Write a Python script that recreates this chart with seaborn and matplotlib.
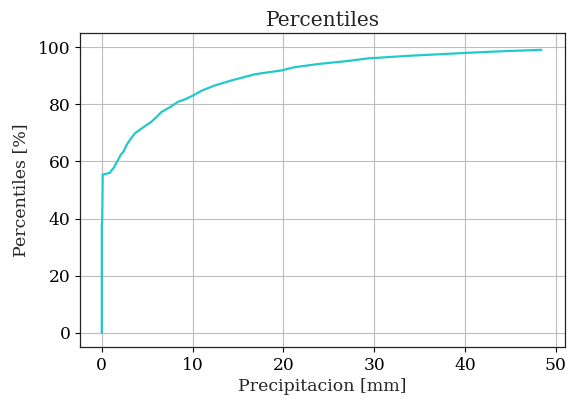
import matplotlib
matplotlib.use("Agg")
import matplotlib.pyplot as plt
import seaborn as sns
import pandas as pd

precip_mm = [0.0, 0.0, 0.05, 0.1, 0.9, 1.0, 1.3, 1.8, 2.1, 2.4, 2.75, 3.2, 3.66, 4.4, 5.5,
             6.0, 6.6, 7.5, 8.4, 9.2, 10.1, 11.0, 12.5, 14.3, 16.8, 17.6, 19.8, 21.2,
             24.0, 27.1, 29.3, 33.7, 39.9, 44.0, 48.4]
percentiles = [0.0, 37.5, 40.0, 55.4, 56.0, 56.6, 57.7, 60.6, 62.4, 63.5, 65.9, 68.0, 69.9, 71.6, 74.0,
               75.5, 77.4, 79.0, 80.9, 81.8, 83.2, 84.8, 86.7, 88.4, 90.5, 90.9, 91.9, 93.0,
               94.2, 95.2, 96.1, 97.0, 98.0, 98.6, 99.1]

df = pd.DataFrame({"x": precip_mm, "y": percentiles})

sns.set_style("ticks")
plt.rcParams['font.family'] = ['DejaVu Serif']

fig = plt.figure(figsize=(5.67, 4.04), dpi=100)
ax = fig.add_axes([80/567, 1-347/404, (565-80)/567, (347-33)/404])
sns.lineplot(data=df, x="x", y="y", ax=ax, color="#22c9c9", linewidth=1.6, sort=False,
             estimator=None)
ax.set_xlim(-2.4, 51.0)
ax.set_ylim(-5, 105)
ax.set_xticks([0, 10, 20, 30, 40, 50])
ax.set_yticks([0, 20, 40, 60, 80, 100])
ax.grid(True, color="#bdbdbd", linewidth=0.8)
ax.set_axisbelow(True)
for s in ax.spines.values():
    s.set_color("#222222")
    s.set_linewidth(0.9)
ax.tick_params(labelsize=12.3, colors="black", length=3.5, width=0.8)
ax.set_xlabel("Precipitacion [mm]", fontsize=12.5, labelpad=3)
ax.set_ylabel("Percentiles [%]", fontsize=12.5, labelpad=6)
ax.set_title("Percentiles", fontsize=14.6, pad=5)
fig.savefig("out.png", dpi=100)
